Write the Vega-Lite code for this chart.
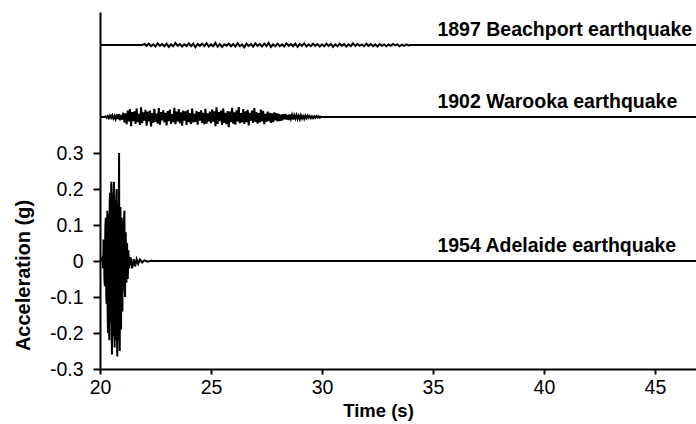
{
 "$schema": "https://vega.github.io/schema/vega-lite/v6.json",
 "width": 596,
 "height": 357,
 "autosize": {"type": "none"},
 "padding": {"left": 100, "top": 12, "right": 0, "bottom": 55},
 "background": "white",
 "config": {"view": {"stroke": null}},
 "encoding": {
  "x": {"field": "t", "type": "quantitative", "scale": {"domain": [20, 46.85], "nice": false, "zero": false},
   "axis": {"values": [20, 25, 30, 35, 40, 45], "title": "Time (s)", "grid": false, "domainColor": "black", "domainWidth": 2, "tickColor": "black", "tickWidth": 2, "tickSize": 5, "labelFont": "Liberation Sans", "labelFontSize": 19.5, "labelColor": "black", "labelPadding": 4, "labelFlush": false, "titleFont": "Liberation Sans", "titleFontSize": 18.5, "titleFontWeight": "bold", "titleColor": "black", "titleX": 278, "titleY": 32, "titleBaseline": "top", "titleAlign": "center"}},
  "y": {"field": "a", "type": "quantitative", "scale": {"domain": [-0.3, 0.692], "nice": false, "zero": false},
   "axis": {"values": [-0.3, -0.2, -0.1, 0, 0.1, 0.2, 0.3], "labelExpr": "toString(round(datum.value*10)/10)", "title": "Acceleration (g)", "grid": false, "domainColor": "black", "domainWidth": 2, "tickColor": "black", "tickWidth": 2, "tickSize": 7, "labelFont": "Liberation Sans", "labelFontSize": 19.5, "labelColor": "black", "labelPadding": 10, "titleFont": "Liberation Sans", "titleFontSize": 20, "titleFontWeight": "bold", "titleColor": "black", "titleAngle": 270, "titleX": -77, "titleY": 263, "titleBaseline": "middle", "titleAlign": "center"}}
 },
 "layer": [
  {
   "data": {"values": [
    {"q":"A","t":20.0,"a":0},{"q":"A","t":20.1,"a":0.01},{"q":"A","t":20.14,"a":-0.02},{"q":"A","t":20.16,"a":0.06},{"q":"A","t":20.18,"a":0.03},{"q":"A","t":20.20,"a":-0.05},{"q":"A","t":20.22,"a":-0.07},{"q":"A","t":20.24,"a":0.09},{"q":"A","t":20.26,"a":0.12},{"q":"A","t":20.28,"a":-0.09},{"q":"A","t":20.30,"a":-0.12},{"q":"A","t":20.315,"a":0.08},{"q":"A","t":20.33,"a":0.14},{"q":"A","t":20.345,"a":-0.15},{"q":"A","t":20.36,"a":-0.20},{"q":"A","t":20.375,"a":0.13},{"q":"A","t":20.39,"a":0.11},{"q":"A","t":20.405,"a":-0.18},{"q":"A","t":20.42,"a":-0.22},{"q":"A","t":20.435,"a":0.16},{"q":"A","t":20.45,"a":0.19},{"q":"A","t":20.465,"a":-0.14},{"q":"A","t":20.48,"a":-0.17},{"q":"A","t":20.495,"a":0.18},{"q":"A","t":20.51,"a":0.22},{"q":"A","t":20.525,"a":-0.2},{"q":"A","t":20.54,"a":-0.26},{"q":"A","t":20.555,"a":0.19},{"q":"A","t":20.57,"a":0.16},{"q":"A","t":20.585,"a":-0.18},{"q":"A","t":20.60,"a":-0.21},{"q":"A","t":20.615,"a":0.2},{"q":"A","t":20.63,"a":0.22},{"q":"A","t":20.645,"a":-0.19},{"q":"A","t":20.66,"a":-0.24},{"q":"A","t":20.675,"a":0.15},{"q":"A","t":20.69,"a":0.17},{"q":"A","t":20.705,"a":-0.22},{"q":"A","t":20.72,"a":-0.19},{"q":"A","t":20.735,"a":0.18},{"q":"A","t":20.75,"a":0.20},{"q":"A","t":20.765,"a":-0.2},{"q":"A","t":20.78,"a":-0.265},{"q":"A","t":20.795,"a":0.16},{"q":"A","t":20.81,"a":0.14},{"q":"A","t":20.825,"a":-0.18},{"q":"A","t":20.84,"a":-0.22},{"q":"A","t":20.85,"a":0.18},{"q":"A","t":20.86,"a":0.30},{"q":"A","t":20.875,"a":-0.2},{"q":"A","t":20.89,"a":-0.25},{"q":"A","t":20.905,"a":0.13},{"q":"A","t":20.92,"a":0.15},{"q":"A","t":20.935,"a":-0.16},{"q":"A","t":20.95,"a":-0.19},{"q":"A","t":20.965,"a":0.1},{"q":"A","t":20.98,"a":0.12},{"q":"A","t":20.995,"a":-0.11},{"q":"A","t":21.01,"a":-0.14},{"q":"A","t":21.025,"a":0.09},{"q":"A","t":21.04,"a":0.11},{"q":"A","t":21.055,"a":-0.06},{"q":"A","t":21.07,"a":-0.08},{"q":"A","t":21.085,"a":0.12},{"q":"A","t":21.10,"a":0.14},{"q":"A","t":21.115,"a":-0.08},{"q":"A","t":21.13,"a":-0.10},{"q":"A","t":21.145,"a":0.06},{"q":"A","t":21.16,"a":0.08},{"q":"A","t":21.175,"a":-0.05},{"q":"A","t":21.19,"a":-0.06},{"q":"A","t":21.22,"a":0.05},{"q":"A","t":21.25,"a":-0.05},{"q":"A","t":21.28,"a":0.03},{"q":"A","t":21.31,"a":-0.02},{"q":"A","t":21.38,"a":0.01},{"q":"A","t":21.45,"a":-0.02},{"q":"A","t":21.52,"a":0.005},{"q":"A","t":21.58,"a":-0.015},{"q":"A","t":21.65,"a":0.005},{"q":"A","t":21.72,"a":-0.008},{"q":"A","t":21.80,"a":0.004},{"q":"A","t":21.90,"a":-0.004},{"q":"A","t":22.00,"a":0.002},{"q":"A","t":22.15,"a":-0.002},{"q":"A","t":22.30,"a":0.001},{"q":"A","t":22.45,"a":0},{"q":"A","t":46.85,"a":0},

    {"q":"W","t":20.0,"a":0.4},{"q":"W","t":20.20,"a":0.4},{"q":"W","t":20.25,"a":0.402},{"q":"W","t":20.30,"a":0.398},{"q":"W","t":20.35,"a":0.403},{"q":"W","t":20.40,"a":0.397},{"q":"W","t":20.45,"a":0.404},{"q":"W","t":20.50,"a":0.398},{"q":"W","t":20.55,"a":0.405},{"q":"W","t":20.60,"a":0.396},{"q":"W","t":20.65,"a":0.403},{"q":"W","t":20.70,"a":0.394},{"q":"W","t":20.75,"a":0.407},{"q":"W","t":20.80,"a":0.395},{"q":"W","t":20.85,"a":0.408},{"q":"W","t":20.90,"a":0.391},{"q":"W","t":20.95,"a":0.406},{"q":"W","t":21.00,"a":0.393},
    {"q":"W","t":21.05,"a":0.412},{"q":"W","t":21.10,"a":0.385},{"q":"W","t":21.15,"a":0.410},{"q":"W","t":21.20,"a":0.380},{"q":"W","t":21.25,"a":0.418},{"q":"W","t":21.30,"a":0.388},{"q":"W","t":21.35,"a":0.422},{"q":"W","t":21.40,"a":0.375},{"q":"W","t":21.45,"a":0.414},{"q":"W","t":21.50,"a":0.389},
    {"q":"W","t":21.55,"a":0.416},{"q":"W","t":21.60,"a":0.381},{"q":"W","t":21.65,"a":0.424},{"q":"W","t":21.70,"a":0.386},{"q":"W","t":21.75,"a":0.409},{"q":"W","t":21.80,"a":0.378},{"q":"W","t":21.85,"a":0.427},{"q":"W","t":21.90,"a":0.383},{"q":"W","t":21.95,"a":0.413},{"q":"W","t":22.00,"a":0.390},
    {"q":"W","t":22.05,"a":0.420},{"q":"W","t":22.10,"a":0.376},{"q":"W","t":22.15,"a":0.415},{"q":"W","t":22.20,"a":0.388},{"q":"W","t":22.25,"a":0.418},{"q":"W","t":22.30,"a":0.374},{"q":"W","t":22.35,"a":0.411},{"q":"W","t":22.40,"a":0.384},{"q":"W","t":22.45,"a":0.423},{"q":"W","t":22.50,"a":0.387},
    {"q":"W","t":22.55,"a":0.410},{"q":"W","t":22.60,"a":0.382},{"q":"W","t":22.65,"a":0.425},{"q":"W","t":22.70,"a":0.379},{"q":"W","t":22.75,"a":0.414},{"q":"W","t":22.80,"a":0.391},{"q":"W","t":22.85,"a":0.419},{"q":"W","t":22.90,"a":0.385},{"q":"W","t":22.95,"a":0.412},{"q":"W","t":23.00,"a":0.377},
    {"q":"W","t":23.05,"a":0.417},{"q":"W","t":23.10,"a":0.389},{"q":"W","t":23.15,"a":0.421},{"q":"W","t":23.20,"a":0.381},{"q":"W","t":23.25,"a":0.408},{"q":"W","t":23.30,"a":0.386},{"q":"W","t":23.35,"a":0.426},{"q":"W","t":23.40,"a":0.380},{"q":"W","t":23.45,"a":0.415},{"q":"W","t":23.50,"a":0.388},
    {"q":"W","t":23.55,"a":0.422},{"q":"W","t":23.60,"a":0.383},{"q":"W","t":23.65,"a":0.413},{"q":"W","t":23.70,"a":0.376},{"q":"W","t":23.75,"a":0.418},{"q":"W","t":23.80,"a":0.390},{"q":"W","t":23.85,"a":0.416},{"q":"W","t":23.90,"a":0.378},{"q":"W","t":23.95,"a":0.420},{"q":"W","t":24.00,"a":0.386},
    {"q":"W","t":24.05,"a":0.411},{"q":"W","t":24.10,"a":0.381},{"q":"W","t":24.15,"a":0.424},{"q":"W","t":24.20,"a":0.385},{"q":"W","t":24.25,"a":0.409},{"q":"W","t":24.30,"a":0.387},{"q":"W","t":24.35,"a":0.417},{"q":"W","t":24.40,"a":0.379},{"q":"W","t":24.45,"a":0.414},{"q":"W","t":24.50,"a":0.390},
    {"q":"W","t":24.55,"a":0.419},{"q":"W","t":24.60,"a":0.384},{"q":"W","t":24.65,"a":0.412},{"q":"W","t":24.70,"a":0.380},{"q":"W","t":24.75,"a":0.423},{"q":"W","t":24.80,"a":0.382},{"q":"W","t":24.85,"a":0.410},{"q":"W","t":24.90,"a":0.388},{"q":"W","t":24.95,"a":0.415},{"q":"W","t":25.00,"a":0.383},
    {"q":"W","t":25.05,"a":0.421},{"q":"W","t":25.10,"a":0.387},{"q":"W","t":25.15,"a":0.416},{"q":"W","t":25.20,"a":0.375},{"q":"W","t":25.25,"a":0.427},{"q":"W","t":25.30,"a":0.381},{"q":"W","t":25.35,"a":0.414},{"q":"W","t":25.40,"a":0.389},{"q":"W","t":25.45,"a":0.418},{"q":"W","t":25.50,"a":0.378},
    {"q":"W","t":25.55,"a":0.424},{"q":"W","t":25.60,"a":0.384},{"q":"W","t":25.65,"a":0.412},{"q":"W","t":25.70,"a":0.380},{"q":"W","t":25.75,"a":0.417},{"q":"W","t":25.80,"a":0.372},{"q":"W","t":25.85,"a":0.415},{"q":"W","t":25.90,"a":0.386},{"q":"W","t":25.95,"a":0.426},{"q":"W","t":26.00,"a":0.382},
    {"q":"W","t":26.05,"a":0.413},{"q":"W","t":26.10,"a":0.379},{"q":"W","t":26.15,"a":0.419},{"q":"W","t":26.20,"a":0.388},{"q":"W","t":26.25,"a":0.428},{"q":"W","t":26.30,"a":0.383},{"q":"W","t":26.35,"a":0.411},{"q":"W","t":26.40,"a":0.385},{"q":"W","t":26.45,"a":0.422},{"q":"W","t":26.50,"a":0.381},
    {"q":"W","t":26.55,"a":0.416},{"q":"W","t":26.60,"a":0.386},{"q":"W","t":26.65,"a":0.420},{"q":"W","t":26.70,"a":0.377},{"q":"W","t":26.75,"a":0.412},{"q":"W","t":26.80,"a":0.390},{"q":"W","t":26.85,"a":0.418},{"q":"W","t":26.90,"a":0.384},{"q":"W","t":26.95,"a":0.425},{"q":"W","t":27.00,"a":0.387},
    {"q":"W","t":27.05,"a":0.414},{"q":"W","t":27.10,"a":0.382},{"q":"W","t":27.15,"a":0.411},{"q":"W","t":27.20,"a":0.385},{"q":"W","t":27.25,"a":0.421},{"q":"W","t":27.30,"a":0.388},{"q":"W","t":27.35,"a":0.417},{"q":"W","t":27.40,"a":0.380},{"q":"W","t":27.45,"a":0.409},{"q":"W","t":27.50,"a":0.387},
    {"q":"W","t":27.55,"a":0.415},{"q":"W","t":27.60,"a":0.389},{"q":"W","t":27.65,"a":0.412},{"q":"W","t":27.70,"a":0.384},{"q":"W","t":27.75,"a":0.410},{"q":"W","t":27.80,"a":0.386},{"q":"W","t":27.85,"a":0.413},{"q":"W","t":27.90,"a":0.391},{"q":"W","t":27.95,"a":0.411},{"q":"W","t":28.00,"a":0.388},
    {"q":"W","t":28.05,"a":0.409},{"q":"W","t":28.10,"a":0.389},{"q":"W","t":28.15,"a":0.407},{"q":"W","t":28.20,"a":0.390},{"q":"W","t":28.25,"a":0.408},{"q":"W","t":28.30,"a":0.394},{"q":"W","t":28.35,"a":0.409},{"q":"W","t":28.40,"a":0.393},{"q":"W","t":28.45,"a":0.406},{"q":"W","t":28.50,"a":0.392},
    {"q":"W","t":28.55,"a":0.407},{"q":"W","t":28.60,"a":0.395},{"q":"W","t":28.65,"a":0.406},{"q":"W","t":28.70,"a":0.393},{"q":"W","t":28.75,"a":0.405},{"q":"W","t":28.80,"a":0.396},{"q":"W","t":28.85,"a":0.406},{"q":"W","t":28.90,"a":0.395},{"q":"W","t":28.95,"a":0.404},{"q":"W","t":29.00,"a":0.394},
    {"q":"W","t":29.05,"a":0.405},{"q":"W","t":29.10,"a":0.396},{"q":"W","t":29.15,"a":0.403},{"q":"W","t":29.20,"a":0.395},{"q":"W","t":29.25,"a":0.404},{"q":"W","t":29.30,"a":0.397},{"q":"W","t":29.35,"a":0.404},{"q":"W","t":29.40,"a":0.398},{"q":"W","t":29.45,"a":0.403},{"q":"W","t":29.50,"a":0.397},
    {"q":"W","t":29.55,"a":0.402},{"q":"W","t":29.60,"a":0.397},{"q":"W","t":29.65,"a":0.402},{"q":"W","t":29.70,"a":0.398},{"q":"W","t":29.75,"a":0.403},{"q":"W","t":29.80,"a":0.399},{"q":"W","t":29.85,"a":0.402},{"q":"W","t":29.90,"a":0.398},{"q":"W","t":29.95,"a":0.401},{"q":"W","t":30.00,"a":0.4},{"q":"W","t":46.85,"a":0.4},

    {"q":"B","t":20.0,"a":0.6},{"q":"B","t":21.9,"a":0.6},
    {"q":"B","t":22.0,"a":0.603},{"q":"B","t":22.1,"a":0.598},{"q":"B","t":22.2,"a":0.604},{"q":"B","t":22.3,"a":0.597},{"q":"B","t":22.4,"a":0.602},{"q":"B","t":22.5,"a":0.596},{"q":"B","t":22.6,"a":0.605},{"q":"B","t":22.7,"a":0.598},{"q":"B","t":22.8,"a":0.603},{"q":"B","t":22.9,"a":0.597},
    {"q":"B","t":23.0,"a":0.604},{"q":"B","t":23.1,"a":0.595},{"q":"B","t":23.2,"a":0.602},{"q":"B","t":23.3,"a":0.597},{"q":"B","t":23.4,"a":0.606},{"q":"B","t":23.5,"a":0.598},{"q":"B","t":23.6,"a":0.603},{"q":"B","t":23.7,"a":0.596},{"q":"B","t":23.8,"a":0.602},{"q":"B","t":23.9,"a":0.597},
    {"q":"B","t":24.0,"a":0.605},{"q":"B","t":24.1,"a":0.597},{"q":"B","t":24.2,"a":0.604},{"q":"B","t":24.3,"a":0.594},{"q":"B","t":24.4,"a":0.603},{"q":"B","t":24.5,"a":0.598},{"q":"B","t":24.6,"a":0.604},{"q":"B","t":24.7,"a":0.597},{"q":"B","t":24.8,"a":0.605},{"q":"B","t":24.9,"a":0.596},
    {"q":"B","t":25.0,"a":0.602},{"q":"B","t":25.1,"a":0.597},{"q":"B","t":25.2,"a":0.606},{"q":"B","t":25.3,"a":0.596},{"q":"B","t":25.4,"a":0.603},{"q":"B","t":25.5,"a":0.595},{"q":"B","t":25.6,"a":0.602},{"q":"B","t":25.7,"a":0.598},{"q":"B","t":25.8,"a":0.604},{"q":"B","t":25.9,"a":0.597},
    {"q":"B","t":26.0,"a":0.603},{"q":"B","t":26.1,"a":0.596},{"q":"B","t":26.2,"a":0.605},{"q":"B","t":26.3,"a":0.597},{"q":"B","t":26.4,"a":0.602},{"q":"B","t":26.5,"a":0.594},{"q":"B","t":26.6,"a":0.604},{"q":"B","t":26.7,"a":0.598},{"q":"B","t":26.8,"a":0.603},{"q":"B","t":26.9,"a":0.596},
    {"q":"B","t":27.0,"a":0.605},{"q":"B","t":27.1,"a":0.598},{"q":"B","t":27.2,"a":0.603},{"q":"B","t":27.3,"a":0.596},{"q":"B","t":27.4,"a":0.604},{"q":"B","t":27.5,"a":0.597},{"q":"B","t":27.6,"a":0.606},{"q":"B","t":27.7,"a":0.595},{"q":"B","t":27.8,"a":0.602},{"q":"B","t":27.9,"a":0.597},
    {"q":"B","t":28.0,"a":0.604},{"q":"B","t":28.1,"a":0.597},{"q":"B","t":28.2,"a":0.602},{"q":"B","t":28.3,"a":0.596},{"q":"B","t":28.4,"a":0.605},{"q":"B","t":28.5,"a":0.598},{"q":"B","t":28.6,"a":0.603},{"q":"B","t":28.7,"a":0.597},{"q":"B","t":28.8,"a":0.604},{"q":"B","t":28.9,"a":0.595},
    {"q":"B","t":29.0,"a":0.603},{"q":"B","t":29.1,"a":0.598},{"q":"B","t":29.2,"a":0.605},{"q":"B","t":29.3,"a":0.596},{"q":"B","t":29.4,"a":0.602},{"q":"B","t":29.5,"a":0.597},{"q":"B","t":29.6,"a":0.604},{"q":"B","t":29.7,"a":0.598},{"q":"B","t":29.8,"a":0.603},{"q":"B","t":29.9,"a":0.596},
    {"q":"B","t":30.0,"a":0.602},{"q":"B","t":30.1,"a":0.597},{"q":"B","t":30.2,"a":0.604},{"q":"B","t":30.3,"a":0.598},{"q":"B","t":30.4,"a":0.603},{"q":"B","t":30.5,"a":0.595},{"q":"B","t":30.6,"a":0.602},{"q":"B","t":30.7,"a":0.597},{"q":"B","t":30.8,"a":0.604},{"q":"B","t":30.9,"a":0.598},
    {"q":"B","t":31.0,"a":0.603},{"q":"B","t":31.1,"a":0.596},{"q":"B","t":31.2,"a":0.602},{"q":"B","t":31.3,"a":0.597},{"q":"B","t":31.4,"a":0.605},{"q":"B","t":31.5,"a":0.598},{"q":"B","t":31.6,"a":0.603},{"q":"B","t":31.7,"a":0.598},{"q":"B","t":31.8,"a":0.602},{"q":"B","t":31.9,"a":0.597},
    {"q":"B","t":32.0,"a":0.604},{"q":"B","t":32.1,"a":0.598},{"q":"B","t":32.2,"a":0.603},{"q":"B","t":32.3,"a":0.597},{"q":"B","t":32.4,"a":0.602},{"q":"B","t":32.5,"a":0.596},{"q":"B","t":32.6,"a":0.603},{"q":"B","t":32.7,"a":0.598},{"q":"B","t":32.8,"a":0.602},{"q":"B","t":32.9,"a":0.597},
    {"q":"B","t":33.0,"a":0.602},{"q":"B","t":33.1,"a":0.598},{"q":"B","t":33.2,"a":0.603},{"q":"B","t":33.3,"a":0.599},{"q":"B","t":33.4,"a":0.602},{"q":"B","t":33.5,"a":0.597},{"q":"B","t":33.6,"a":0.601},{"q":"B","t":33.7,"a":0.598},{"q":"B","t":33.8,"a":0.602},{"q":"B","t":33.9,"a":0.599},
    {"q":"B","t":34.0,"a":0.6},{"q":"B","t":46.85,"a":0.6}
   ]},
   "mark": {"type": "line", "color": "black", "strokeWidth": 2, "clip": true},
   "encoding": {"detail": {"field": "q", "type": "nominal"}}
  },
  {
   "data": {"values": [
    {"label": "1897 Beachport earthquake", "t": 35.2, "a": 0.6},
    {"label": "1902 Warooka earthquake", "t": 35.2, "a": 0.4},
    {"label": "1954 Adelaide earthquake", "t": 35.2, "a": 0}
   ]},
   "mark": {"type": "text", "font": "Liberation Sans", "fontWeight": "bold", "fontSize": 19.5, "align": "left", "baseline": "alphabetic", "dy": -9, "color": "black"},
   "encoding": {"text": {"field": "label", "type": "nominal"}}
  }
 ]
}
